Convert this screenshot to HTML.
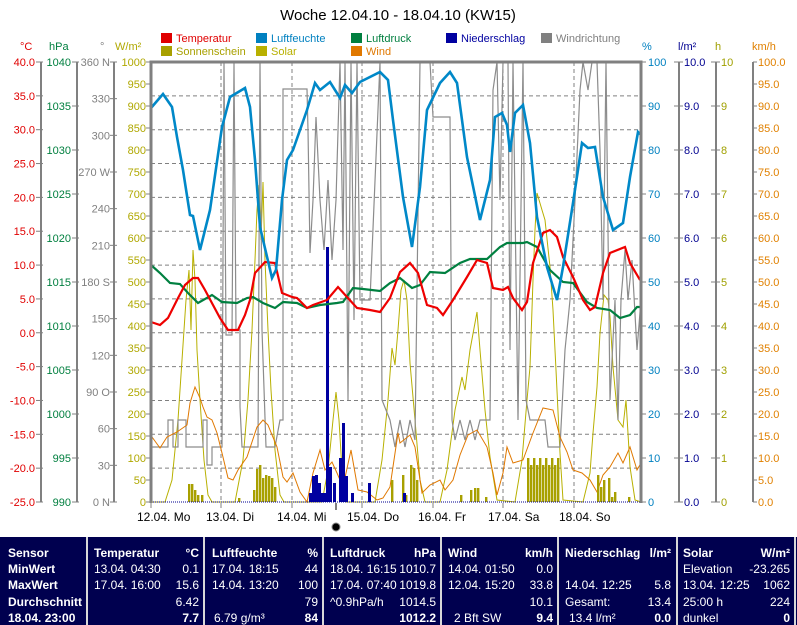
<!DOCTYPE html>
<html><head><meta charset="utf-8"><style>
html,body{margin:0;padding:0;background:#fff;}
svg{display:block;font-family:"Liberation Sans",sans-serif;}
</style></head><body>
<svg width="797" height="625" viewBox="0 0 797 625" xmlns="http://www.w3.org/2000/svg">
<rect width="797" height="625" fill="#fff"/>
<text x="398" y="20" font-size="15" text-anchor="middle" fill="#000">Woche 12.04.10 - 18.04.10 (KW15)</text>
<!-- legend -->
<g font-size="11">
<rect x="161" y="33" width="11" height="10" fill="#e00000"/><text x="176" y="42" fill="#e00000">Temperatur</text>
<rect x="256" y="33" width="11" height="10" fill="#0080c0"/><text x="271" y="42" fill="#0080c0">Luftfeuchte</text>
<rect x="351" y="33" width="11" height="10" fill="#007f3f"/><text x="366" y="42" fill="#007f3f">Luftdruck</text>
<rect x="446" y="33" width="11" height="10" fill="#0000a0"/><text x="461" y="42" fill="#0000a0">Niederschlag</text>
<rect x="541" y="33" width="11" height="10" fill="#808080"/><text x="556" y="42" fill="#808080">Windrichtung</text>
<rect x="161" y="46" width="11" height="10" fill="#a8a000"/><text x="176" y="55" fill="#a8a000">Sonnenschein</text>
<rect x="256" y="46" width="11" height="10" fill="#b8b000"/><text x="271" y="55" fill="#b8b000">Solar</text>
<rect x="351" y="46" width="11" height="10" fill="#e07800"/><text x="366" y="55" fill="#e07800">Wind</text>
</g>
<!-- unit labels -->
<g font-size="11">
<text x="20" y="50" fill="#e00000">°C</text>
<text x="49" y="50" fill="#007f3f">hPa</text>
<text x="100" y="50" fill="#808080">°</text>
<text x="115" y="50" fill="#b0a800">W/m²</text>
<text x="642" y="50" fill="#0080c0">%</text>
<text x="678" y="50" fill="#000090">l/m²</text>
<text x="715" y="50" fill="#a0a000">h</text>
<text x="752" y="50" fill="#e08000">km/h</text>
</g>
<!-- axis lines -->
<g stroke="#808080" stroke-width="2">
<line x1="41" y1="62" x2="41" y2="502"/>
<line x1="77" y1="62" x2="77" y2="502"/>
<line x1="114" y1="62" x2="114" y2="502"/>
<line x1="679" y1="62" x2="679" y2="502"/>
<line x1="716" y1="62" x2="716" y2="502"/>
<line x1="753" y1="62" x2="753" y2="502"/>
</g>
<g id="ticks" stroke="#808080" stroke-width="1"></g>
<g font-size="11" id="labels"></g>
<!-- grid -->
<g stroke="#808080" stroke-width="1" stroke-dasharray="4,3" id="grid"></g>
<!-- solar -->
<polyline fill="none" stroke="#b8b000" stroke-width="1" points="151,502 165,502 172,480 178,420 182,360 186,300 189,270 191,330 193,250 195,280 197,350 200,400 204,460 208,495 212,502 235,502 243,460 248,400 252,330 255,260 257,210 259,185 261,240 263,182 265,260 268,330 271,390 275,450 280,495 284,502 322,502 328,470 333,420 336,392 339,420 342,470 346,502 375,502 382,460 388,400 392,348 395,365 398,330 401,290 404,280 407,300 410,363 415,420 420,480 425,502 440,502 447,470 455,410 462,377 465,390 470,350 477,312 480,350 485,410 490,457 497,500 515,502 522,460 527,400 530,367 533,280 535,230 537,193 542,210 545,220 550,267 553,310 556,370 560,453 563,500 583,502 590,473 593,433 597,387 600,333 604,295 608,300 610,317 613,367 618,420 623,427 626,400 630,467 635,500 641,502"/>
<!-- wind direction -->
<polyline fill="none" stroke="#8c8c8c" stroke-width="1.2" points="151,447 168,447 168,420 173,420 173,447 178,447 178,420 186,420 186,447 203,447 203,420 207,420 207,465 212,465 212,447 222,447 224,62 226,335 232,335 234,62 236,330 240,330 240,407 242,447 258,447 260,62 262,330 266,447 275,447 280,420 283,420 283,89 307,89 308,130 310,253 313,200 316,117 320,200 324,250 328,180 332,260 336,200 340,62 343,250 345,62 348,400 351,62 354,320 357,62 360,300 370,300 380,62 382,400 390,420 395,447 400,420 405,447 410,420 415,440 420,62 425,62 430,62 433,117 450,117 452,420 455,440 460,420 465,440 470,420 475,440 480,420 490,420 493,90 497,62 500,200 503,62 508,62 510,350 513,62 518,420 523,62 526,400 530,420 545,420 548,447 560,447 565,350 570,300 575,200 580,90 583,62 588,90 592,62 597,62 600,150 603,300 606,62 610,400 615,300 618,420 621,300 625,250 628,300 632,260 637,350 641,300"/>
<!-- wind -->
<polyline fill="none" stroke="#e07800" stroke-width="1" points="152,437 160,448 167,437 177,432 187,425 190,403 195,387 200,398 203,407 207,417 212,420 217,433 222,453 228,478 233,480 238,470 247,457 257,427 263,420 268,425 277,447 283,477 287,482 293,473 300,492 307,502 313,473 320,450 325,470 332,462 337,473 343,487 351,450 358,490 367,492 377,500 383,498 390,487 398,433 400,443 410,435 415,447 422,493 430,485 440,480 445,490 453,480 460,455 468,435 477,430 487,447 493,473 497,495 503,473 507,447 513,463 523,460 533,433 543,408 553,410 560,437 567,452 573,470 582,473 590,480 597,492 603,475 610,467 618,453 623,463 630,447 637,470 641,463"/>
<!-- sunshine bars -->
<g fill="#a8a000" id="sun"></g>
<!-- rain bars -->
<g fill="#0000a0" id="rain"></g>
<!-- pressure -->
<polyline fill="none" stroke="#008040" stroke-width="2.2" points="151,265 160,273 170,283 180,284 188,293 198,303 212,295 222,302 237,303 247,298 253,297 263,303 275,308 283,302 297,303 307,308 320,305 337,303 343,302 353,288 363,289 380,291 390,283 400,278 412,288 420,285 430,272 445,273 460,263 470,259 487,259 500,247 507,243 523,243 527,242 537,247 550,270 563,282 573,283 587,302 597,308 610,310 620,318 630,315 637,307 641,307"/>
<!-- temperature -->
<polyline fill="none" stroke="#ee0000" stroke-width="2.2" points="151,322 160,325 168,318 177,300 185,285 193,278 198,278 205,290 213,305 220,318 228,330 238,330 245,315 250,300 255,273 265,262 275,263 282,293 292,297 297,298 307,308 313,305 327,300 338,287 347,297 357,308 370,310 380,312 390,298 400,272 410,263 418,273 427,305 437,308 443,315 453,300 467,277 477,260 487,263 493,288 503,290 508,287 513,298 522,310 527,302 533,263 543,233 550,230 557,237 563,257 573,277 583,300 590,310 595,307 603,273 610,253 625,247 630,263 640,280"/>
<!-- humidity -->
<polyline fill="none" stroke="#0088c8" stroke-width="2.6" points="151,108 163,94 172,107 177,137 183,170 190,215 193,216 200,250 210,210 222,127 230,97 245,88 250,107 255,160 260,227 272,278 276,270 282,200 287,160 293,150 307,110 315,83 320,90 330,82 340,98 345,85 352,93 360,82 380,72 388,80 393,120 403,197 412,247 420,187 427,110 440,83 450,72 457,83 467,157 480,220 490,180 495,117 502,113 507,125 510,152 515,113 523,105 530,143 537,217 547,267 557,300 563,267 573,203 582,143 588,148 595,147 603,197 613,230 623,223 630,177 638,132 641,135"/>
<!-- frame -->
<line x1="151" y1="502" x2="641" y2="502" stroke="#000090" stroke-width="1" stroke-dasharray="1,1"/>
<path d="M151,503 V62 H641 V503" fill="none" stroke="#808080" stroke-width="3"/>
<!-- day labels -->
<g font-size="12" fill="#000">
<text x="137" y="521">12.04.  Mo</text>
<text x="206" y="521">13.04.  Di</text>
<text x="277" y="521">14.04.  Mi</text>
<text x="347" y="521">15.04.  Do</text>
<text x="418" y="521">16.04.  Fr</text>
<text x="488" y="521">17.04.  Sa</text>
<text x="559" y="521">18.04.  So</text>
</g>
<g stroke="#808080"><line x1="151" y1="503" x2="151" y2="508"/><line x1="221" y1="503" x2="221" y2="508"/><line x1="292" y1="503" x2="292" y2="508"/><line x1="362" y1="503" x2="362" y2="508"/><line x1="433" y1="503" x2="433" y2="508"/><line x1="503" y1="503" x2="503" y2="508"/><line x1="574" y1="503" x2="574" y2="508"/></g>
<line x1="336" y1="503" x2="336" y2="510" stroke="#000"/>
<circle cx="336" cy="527" r="4" fill="#000" stroke="#888"/>
<!-- table -->
<rect x="0" y="537" width="797" height="88" fill="#00004f"/>
<g stroke="#d8d8d8" stroke-width="2">
<line x1="87" y1="537" x2="87" y2="625"/><line x1="204" y1="537" x2="204" y2="625"/><line x1="323" y1="537" x2="323" y2="625"/><line x1="441" y1="537" x2="441" y2="625"/><line x1="558" y1="537" x2="558" y2="625"/><line x1="677" y1="537" x2="677" y2="625"/><line x1="795" y1="537" x2="795" y2="625"/>
</g>
<g font-size="12" fill="#fff">
<g font-weight="bold"><text x="8" y="557">Sensor</text><text x="8" y="573">MinWert</text><text x="8" y="589">MaxWert</text><text x="8" y="606">Durchschnitt</text><text x="8" y="622">18.04. 23:00</text></g>
<g font-weight="bold"><text x="94" y="557">Temperatur</text><text x="212" y="557">Luftfeuchte</text><text x="330" y="557">Luftdruck</text><text x="448" y="557">Wind</text><text x="565" y="557">Niederschlag</text><text x="683" y="557">Solar</text></g>
<g font-weight="bold" text-anchor="end"><text x="199" y="557">°C</text><text x="318" y="557">%</text><text x="436" y="557">hPa</text><text x="553" y="557">km/h</text><text x="671" y="557">l/m²</text><text x="790" y="557">W/m²</text></g>
<text x="94" y="573">13.04.  04:30</text><text x="94" y="589">17.04.  16:00</text>
<text x="212" y="573">17.04.  18:15</text><text x="212" y="589">14.04.  13:20</text><text x="214" y="622">6.79 g/m³</text>
<text x="330" y="573">18.04.  16:15</text><text x="330" y="589">17.04.  07:40</text><text x="330" y="606">^0.9hPa/h</text>
<text x="448" y="573">14.04.  01:50</text><text x="448" y="589">12.04.  15:20</text><text x="454" y="622">2 Bft SW</text>
<text x="565" y="589">14.04.  12:25</text><text x="565" y="606">Gesamt:</text><text x="569" y="622">13.4 l/m²</text>
<text x="683" y="573">Elevation</text><text x="683" y="589">13.04.  12:25</text><text x="683" y="606">25:00 h</text><text x="683" y="622">dunkel</text>
<g text-anchor="end">
<text x="199" y="573">0.1</text><text x="199" y="589">15.6</text><text x="199" y="606">6.42</text>
<text x="318" y="573">44</text><text x="318" y="589">100</text><text x="318" y="606">79</text>
<text x="436" y="573">1010.7</text><text x="436" y="589">1019.8</text><text x="436" y="606">1014.5</text>
<text x="553" y="573">0.0</text><text x="553" y="589">33.8</text><text x="553" y="606">10.1</text>
<text x="671" y="589">5.8</text><text x="671" y="606">13.4</text>
<text x="790" y="573">-23.265</text><text x="790" y="589">1062</text><text x="790" y="606">224</text>
<g font-weight="bold"><text x="199" y="622">7.7</text><text x="318" y="622">84</text><text x="436" y="622">1012.2</text><text x="553" y="622">9.4</text><text x="671" y="622">0.0</text><text x="790" y="622">0</text></g>
</g>
</g>
<script>
(function(){
var NS="http://www.w3.org/2000/svg";
function el(p,t,a,txt){var e=document.createElementNS(NS,t);for(var k in a)e.setAttribute(k,a[k]);if(txt!==undefined)e.textContent=txt;document.getElementById(p).appendChild(e);}
var T=62,B=502,H=440;
// grid
for(var k=1;k<13;k++){var y=T+H*k/13;el("grid","line",{x1:151,x2:641,y1:y,y2:y});}
[221,292,362,433,503,574].forEach(function(x){el("grid","line",{x1:x,x2:x,y1:62,y2:502});});
function axis(n,fmt,col,tx,anchor,t1,t2){for(var i=0;i<=n;i++){var y=T+H*i/n;el("ticks","line",{x1:t1,x2:t2,y1:y,y2:y});el("labels","text",{x:tx,y:y+4,fill:col,"text-anchor":anchor},fmt(i));}}
axis(13,function(i){return (40-5*i).toFixed(1)},"#e00000",35,"end",36,43);
axis(10,function(i){return String(1040-5*i)},"#007f3f",71,"end",72,79);
var dirs={0:"360 N",3:"270 W",6:"180 S",9:"90 O",12:"0   N"};
axis(12,function(i){return dirs[i]||String(360-30*i)},"#808080",110,"end",110,117);
axis(20,function(i){return String(1000-50*i)},"#b0a800",146,"end",146,151);
axis(10,function(i){return String(100-10*i)},"#0080c0",648,"start",641,646);
axis(10,function(i){return (10-i).toFixed(1)},"#000090",684,"start",674,683);
axis(10,function(i){return String(10-i)},"#a0a000",721,"start",711,720);
axis(20,function(i){return (100-5*i).toFixed(1)},"#e08000",758,"start",753,757);
var sun=[[188,484],[191,484],[194,490],[197,495],[201,495],[238,498],[253,490],[256,469],[259,465],[262,478],[265,475],[268,476],[271,478],[274,487],[391,480],[402,475],[405,495],[410,465],[413,468],[416,480],[460,495],[470,490],[474,488],[477,488],[485,497],[597,475],[600,487],[603,480],[608,478],[611,497],[614,492],[628,497]];
for(var x=527;x<=557;x+=3)sun.push([x,(x%2)?458:465]);
sun.forEach(function(s){el("sun","rect",{x:s[0],y:s[1],width:2.4,height:502-s[1]});});
var rain=[[309,493],[312,476],[315,475],[318,483],[321,493],[324,493],[326,247],[329,467],[333,483],[339,458],[342,423],[345,476],[351,493],[368,483],[403,493]];
rain.forEach(function(s){el("rain","rect",{x:s[0],y:s[1],width:3,height:502-s[1]});});
})();
</script>
</svg>
</body></html>
